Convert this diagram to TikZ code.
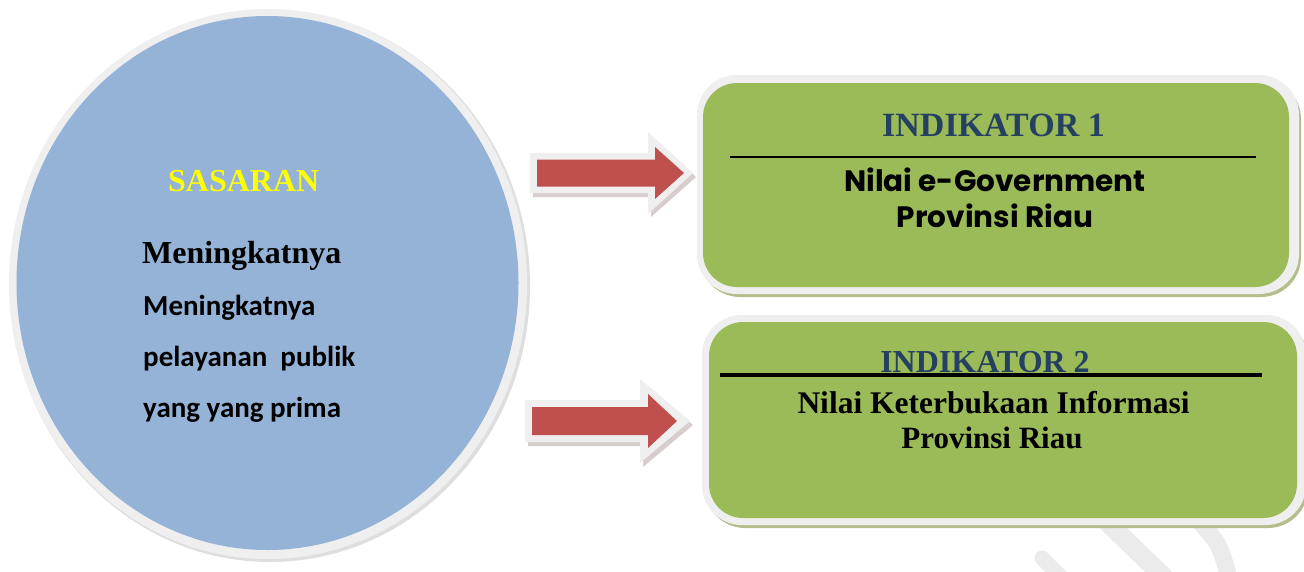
\documentclass[tikz,border=0pt]{standalone}
\usepackage{fontspec}
\setmainfont{Liberation Serif}
\newfontfamily\bodysans{Carlito}
\newfontfamily\geosans{Poppins}
\usetikzlibrary{shapes.geometric}

\definecolor{skyfill}{HTML}{95B3D7}
\definecolor{leaf}{HTML}{9BBB59}
\definecolor{brick}{HTML}{C0504D}
\definecolor{navy}{HTML}{254061}
\definecolor{rimc}{HTML}{EFEFEF}
\definecolor{rimedge}{HTML}{DEDEDE}
\definecolor{boxshade}{HTML}{B3BE8C}
\definecolor{arrshade}{HTML}{D7CDCD}
\definecolor{wmark}{HTML}{EBEBEB}
\definecolor{sunny}{HTML}{FFFF00}

% block arrow: left x, head base x, tip x, centre y, half body, half head, style
\newcommand\blockarr[7]{%
  \fill[#7] (#1,#4-#5) -- (#2,#4-#5) -- (#2,#4-#6) -- (#3,#4)
    -- (#2,#4+#6) -- (#2,#4+#5) -- (#1,#4+#5) -- cycle;}

\tikzset{
  txt/.style={inner sep=0pt, anchor=base},
  txtw/.style={inner sep=0pt, anchor=base west},
  panel/.style={fill=leaf, rounded corners=34pt, inner sep=0pt},
}

\begin{document}
\begin{tikzpicture}[x=1pt,y=-1pt]
\useasboundingbox[fill=white] (0,0) rectangle (1304,571);
\begin{scope}
\clip (0,0) rectangle (1304,571);

% faint strokes in the lower right corner
\draw[wmark, line width=19pt] (1107,522) -- (1165,578);
\draw[wmark, line width=17pt] (1200,522) .. controls (1220,545) .. (1229,578);
\draw[wmark, line width=15pt, line cap=round] (1042,558) -- (1064,580);

% goal ellipse with its light rim
\fill[rimedge] (270,286) ellipse [x radius=260, y radius=276];
\fill[rimc] (268,284) ellipse [x radius=259, y radius=275];
\node (goal) [ellipse, fill=skyfill, inner sep=0pt,
  minimum width=502pt, minimum height=534pt] at (267.5,283) {};

\node (gtitle) [txtw, font=\bfseries\fontsize{32}{32}\selectfont, text=sunny] at (168,191) {SASARAN};
\node (gline0) [txtw, font=\bfseries\fontsize{32}{32}\selectfont] at (142,263) {Meningkatnya};
\node (gline1) [txtw, font=\bodysans\bfseries\fontsize{29}{29}\selectfont] at (143,315) {Meningkatnya};
\node (gline2) [txtw, font=\bodysans\bfseries\fontsize{29}{29}\selectfont] at (143,366) {pelayanan~~publik};
\node (gline3) [txtw, font=\bodysans\bfseries\fontsize{29}{29}\selectfont] at (143,417) {yang yang prima};

% panel 1
\fill[boxshade, rounded corners=40pt] (700,79) rectangle (1301,297);
\fill[rimc, rounded corners=40pt] (697,75) rectangle (1299,294);
\node (ind1) [panel, minimum width=586pt, minimum height=204pt] at (996,185) {};
\node (ind1t) [txt, font=\bfseries\fontsize{34}{34}\selectfont, text=navy] at (993.5,136) {INDIKATOR 1};
\draw[line width=1.3pt] (730,157) -- (1256,157);
\node (ind1a) [txt, font=\geosans\bfseries\fontsize{29.5}{29.5}\selectfont] at (995,191) {Nilai e-Government};
\node (ind1b) [txt, font=\geosans\bfseries\fontsize{29.5}{29.5}\selectfont] at (995,227) {Provinsi Riau};

% panel 2
\fill[boxshade, rounded corners=40pt] (705,319) rectangle (1308,528);
\fill[rimc, rounded corners=40pt] (702,315) rectangle (1306,525);
\node (ind2) [panel, minimum width=588pt, minimum height=196pt] at (1003,420) {};
\node (ind2t) [txt, font=\bfseries\fontsize{32}{32}\selectfont, text=navy] at (985,372.5) {INDIKATOR 2};
\draw[line width=4.5pt] (720,375) -- (1262,375);
\node (ind2a) [txt, font=\bfseries\fontsize{31.5}{31.5}\selectfont] at (993.5,413) {Nilai Keterbukaan Informasi};
\node (ind2b) [txt, font=\bfseries\fontsize{31}{31}\selectfont] at (992,448) {Provinsi Riau};

% block arrows
\blockarr{533}{651}{696}{177}{20}{40}{arrshade}
\blockarr{530}{648}{693}{173}{20}{41}{rimc}
\blockarr{537}{655}{684}{173}{13.5}{26}{brick}

\blockarr{528}{643}{693}{425}{21}{42}{arrshade}
\blockarr{525}{640}{690}{421}{21}{42}{rimc}
\blockarr{532}{648}{677}{421}{14}{27}{brick}
\end{scope}
\end{tikzpicture}
\end{document}
